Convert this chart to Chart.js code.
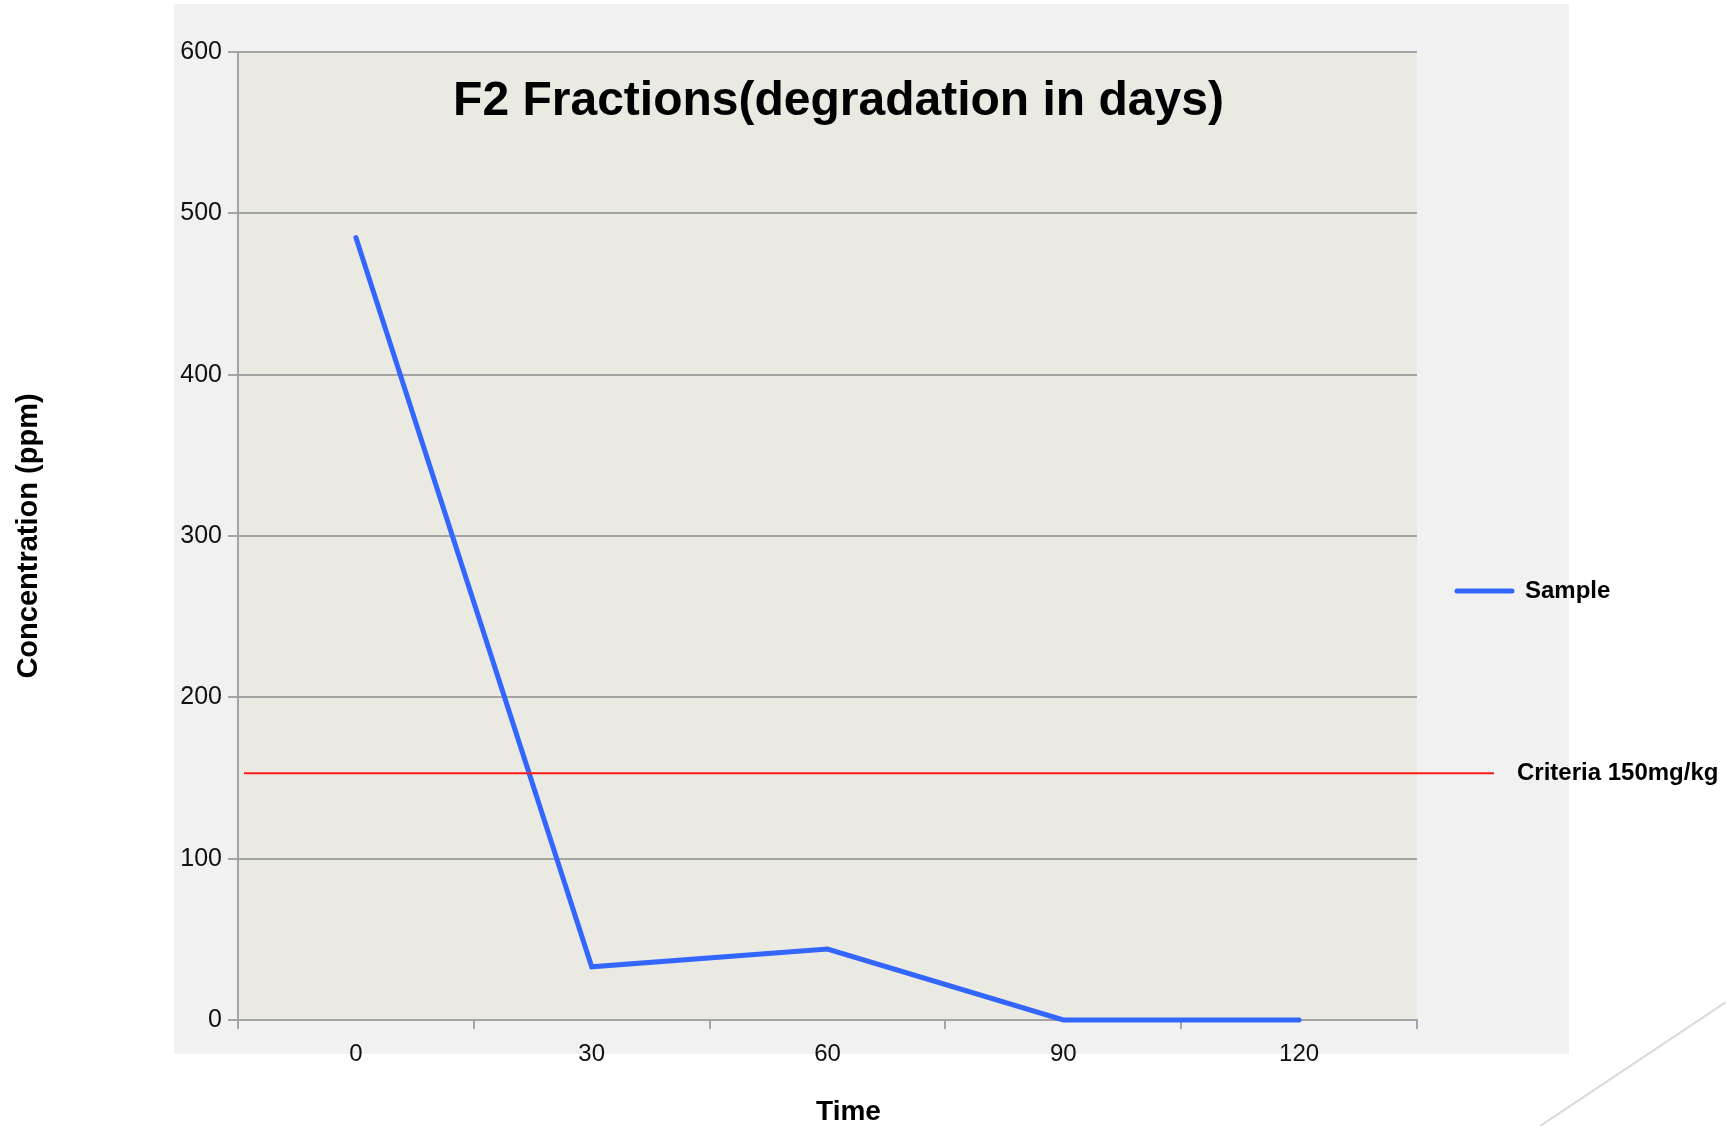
<!DOCTYPE html>
<html>
<head>
<meta charset="utf-8">
<title>F2 Fractions</title>
<script src="https://cdn.jsdelivr.net/npm/chart.js@4.4.0/dist/chart.umd.min.js"></script>
<style>
  html, body { margin: 0; padding: 0; background: #fff; overflow: hidden; }
  canvas { display: block; }
</style>
</head>
<body>
<canvas id="chart" width="1726" height="1126"></canvas>
<script>
// chart data
const days = ['0', '30', '60', '90', '120'];
const sampleValues = [485, 33, 44, 0, 0];
const yTicks = [0, 100, 200, 300, 400, 500, 600];
const criteriaValue = 153;
const criteriaLabel = 'Criteria 150mg/kg';
const chartTitle = 'F2 Fractions(degradation in days)';
const xTitle = 'Time';

const FONT = '"Liberation Sans", Arial, Helvetica, sans-serif';
const gridColor = '#a4a4a4';
const sampleColor = '#3366ff';

Chart.defaults.font.family = FONT;

// panel backgrounds, titles, legend, criteria line, corner stroke
const decorations = {
  id: 'decorations',
  beforeDraw(chart) {
    const { ctx, chartArea: a } = chart;
    ctx.save();
    ctx.fillStyle = '#f1f1f1';
    ctx.fillRect(174, 4, 1395, 1050);
    ctx.fillStyle = '#eae9e2';
    ctx.fillRect(a.left, a.top, a.right - a.left, a.bottom - a.top);
    ctx.restore();
  },
  afterDraw(chart) {
    const { ctx, chartArea: a } = chart;
    const y = chart.scales.y;
    ctx.save();

    // title inside the plot
    ctx.fillStyle = '#000';
    ctx.font = 'bold 48px ' + FONT;
    ctx.textAlign = 'center';
    ctx.textBaseline = 'middle';
    ctx.fillText(chartTitle, (a.left + a.right) / 2 + 11, a.top + 50);

    // x axis title, a bit right of centre as in the original
    ctx.font = 'bold 28px ' + FONT;
    ctx.fillText(xTitle, (a.left + a.right) / 2 + 21, chart.height - 14);

    // criteria line
    const cy = y.getPixelForValue(criteriaValue);
    ctx.strokeStyle = '#ff1a1a';
    ctx.lineWidth = 2;
    ctx.beginPath();
    ctx.moveTo(a.left + 6, cy);
    ctx.lineTo(a.right + 77, cy);
    ctx.stroke();
    ctx.font = 'bold 24px ' + FONT;
    ctx.textAlign = 'left';
    ctx.fillText(criteriaLabel, a.right + 100, cy);

    // legend
    const ly = a.top + 539;
    ctx.strokeStyle = sampleColor;
    ctx.lineWidth = 5;
    ctx.lineCap = 'round';
    ctx.beginPath();
    ctx.moveTo(a.right + 40, ly);
    ctx.lineTo(a.right + 95, ly);
    ctx.stroke();
    ctx.fillText(chart.data.datasets[0].label, a.right + 108, ly);

    // thin corner stroke
    ctx.strokeStyle = '#d9d9d9';
    ctx.lineWidth = 2;
    ctx.lineCap = 'butt';
    ctx.beginPath();
    ctx.moveTo(chart.width, 1002);
    ctx.lineTo(1540, chart.height);
    ctx.stroke();
    ctx.restore();
  }
};

const ctx = document.getElementById('chart').getContext('2d');
new Chart(ctx, {
  type: 'line',
  data: {
    labels: days,
    datasets: [{
      label: 'Sample',
      data: sampleValues,
      borderColor: sampleColor,
      backgroundColor: sampleColor,
      borderWidth: 5,
      borderCapStyle: 'round',
      pointRadius: 0,
      tension: 0,
      clip: false
    }]
  },
  options: {
    responsive: false,
    animation: false,
    layout: { padding: { top: 52, right: 309, left: 0, bottom: 0 } },
    plugins: {
      legend: { display: false },
      tooltip: { enabled: false }
    },
    scales: {
      x: {
        offset: true,
        grid: { offset: true, drawOnChartArea: false, tickLength: 9, color: gridColor, lineWidth: 2 },
        border: { color: gridColor, width: 2 },
        ticks: { font: { size: 24 }, color: '#111', padding: 11, maxRotation: 0 },
        afterFit(s) { s.height = 106; }
      },
      y: {
        min: 0,
        max: 600,
        afterBuildTicks(s) { s.ticks = yTicks.map(v => ({ value: v })); },
        grid: { tickLength: 10, color: gridColor, lineWidth: 2 },
        border: { color: gridColor, width: 2 },
        ticks: { font: { size: 25 }, color: '#111', padding: 6 },
        title: { display: true, text: 'Concentration (ppm)', color: '#000', padding: { top: 14, bottom: 0 },
                 font: { size: 29, weight: 'bold', lineHeight: 1 } },
        afterFit(s) { s.width = 238; }
      }
    }
  },
  plugins: [decorations]
});
</script>
</body>
</html>
